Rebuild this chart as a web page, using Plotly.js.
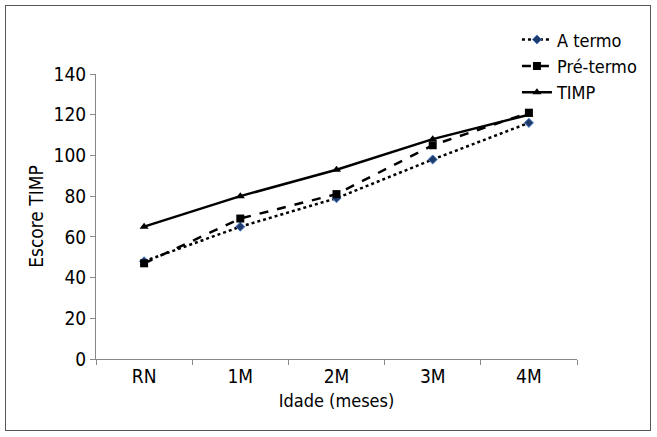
<!DOCTYPE html>
<html>
<head>
<meta charset="utf-8">
<script src="https://cdn.plot.ly/plotly-3.0.1.min.js"></script>
<style>
html,body{margin:0;padding:0;background:#fff;}
#frame{position:absolute;left:5px;top:5px;width:646px;height:426px;border:1px solid #555;box-sizing:border-box;}
#chart{position:absolute;left:0;top:0;width:657px;height:437px;}
</style>
</head>
<body>
<div id="frame"></div>
<div id="chart"></div>
<script>
const categories = ["RN", "1M", "2M", "3M", "4M"];
const aTermo = [48, 65, 79, 98, 116];
const preTermo = [47, 69, 81, 105, 121];
const timp = [65, 80, 93, 108, 120];
const yTicks = [0, 20, 40, 60, 80, 100, 120, 140];

const fontFam = '"DejaVu Sans Condensed", "Liberation Sans Narrow", Arial, sans-serif';

const traces = [
  {x: categories, y: aTermo, name: "A termo", mode: "lines+markers",
   line: {color: "#000", width: 2.5, dash: "dot"},
   marker: {symbol: "diamond", size: 7, color: "#1f3a6b", line: {color: "#4a7fc8", width: 1}}},
  {x: categories, y: preTermo, name: "Pré-termo", mode: "lines+markers",
   line: {color: "#000", width: 2.5, dash: "dash"},
   marker: {symbol: "square", size: 8, color: "#000"}},
  {x: categories, y: timp, name: "TIMP", mode: "lines+markers",
   line: {color: "#000", width: 2.5},
   marker: {symbol: "triangle-up", size: 8, color: "#000"}}
];

const layout = {
  width: 657, height: 437,
  paper_bgcolor: "rgba(0,0,0,0)", plot_bgcolor: "rgba(0,0,0,0)",
  margin: {l: 96, r: 80, t: 74, b: 78},
  font: {family: fontFam, size: 18, color: "#000"},
  showlegend: true,
  legend: {x: 1.135, y: 1.185, xanchor: "right", yanchor: "top", font: {size: 18},
           tracegroupgap: 0, bgcolor: "rgba(0,0,0,0)"},
  xaxis: {
    type: "category", showgrid: false, zeroline: false,
    showline: true, linecolor: "#888", linewidth: 1,
    ticks: "outside", tickson: "boundaries", ticklen: 5, tickcolor: "#888",
    tickfont: {size: 19},
    range: [-0.5, 4.5],
    title: {text: "Idade (meses)", font: {size: 18}, standoff: 8}
  },
  yaxis: {
    range: [0, 140], tickvals: yTicks, showgrid: false, zeroline: false,
    showline: true, linecolor: "#888", linewidth: 1,
    ticks: "outside", ticklen: 5, tickcolor: "#888",
    tickfont: {size: 19},
    title: {text: "Escore TIMP", font: {size: 19}, standoff: 4}
  }
};

Plotly.newPlot("chart", traces, layout, {displayModeBar: false, staticPlot: true});
</script>
</body>
</html>
